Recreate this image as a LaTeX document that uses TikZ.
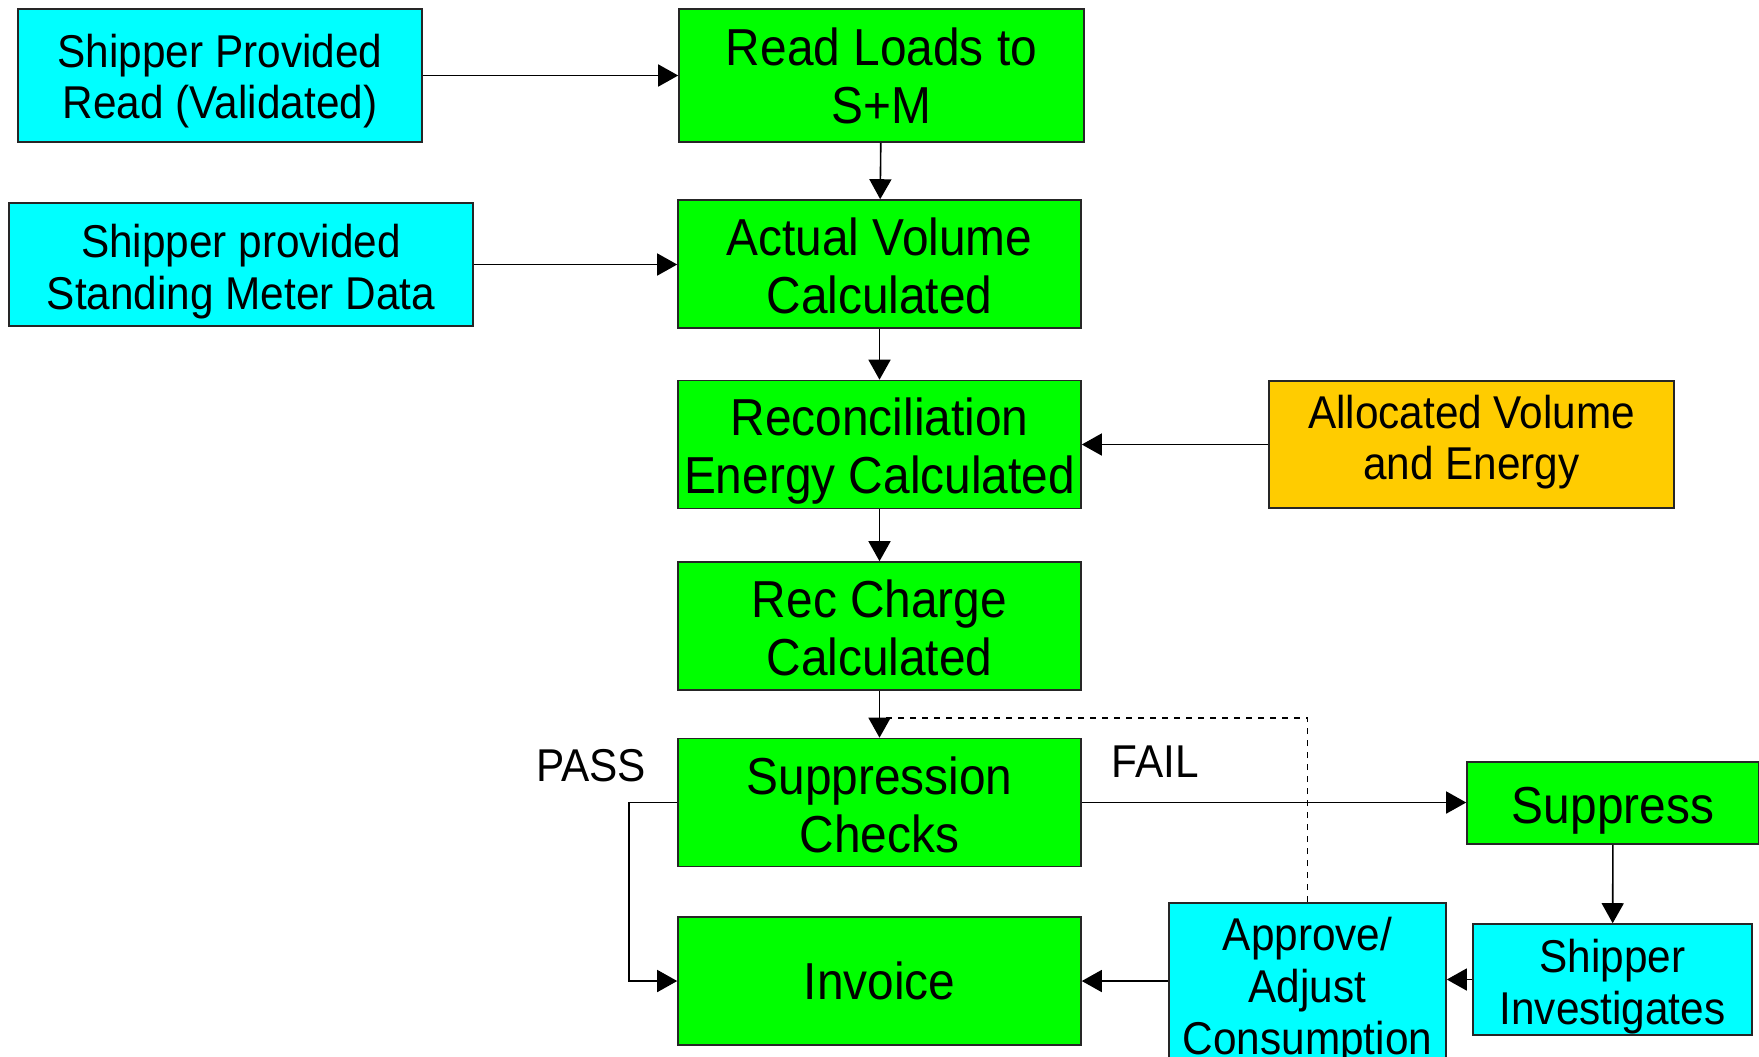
\documentclass[tikz,border=0pt]{standalone}
\usepackage{fontspec}
\setmainfont{Liberation Sans}[FakeStretch=0.92]
\usetikzlibrary{arrows.meta,positioning,calc}
\definecolor{procgreen}{HTML}{00FF00}
\definecolor{shipcyan}{HTML}{00FFFF}
\definecolor{allocgold}{HTML}{FFCC00}
% invisible struts to nudge the text inside a box
\newcommand{\txtdown}[1]{\rule{0pt}{#1}}
\newcommand{\txtup}[1]{\rule[-#1]{0pt}{0pt}}

\begin{document}
\begin{tikzpicture}[x=0.5pt,y=-0.5pt,
  box/.style={draw=black!85, line width=0.8pt, inner sep=0pt, align=center},
  proc/.style={box, fill=procgreen, minimum width=201.5pt, minimum height=64pt,
    font=\fontsize{26}{29}\selectfont},
  shipper/.style={box, fill=shipcyan, font=\fontsize{23}{25.8}\selectfont},
  alloc/.style={box, fill=allocgold, font=\fontsize{23}{25.8}\selectfont},
  arr/.style={-{Triangle[length=10pt,width=11pt]}, line width=0.8pt},
  lbl/.style={font=\fontsize{23}{25.8}\selectfont}]

  \path[use as bounding box, clip] (0,0) rectangle (1759,1056);

  % main column
  \node[proc, minimum width=202.5pt, minimum height=66.5pt] (readloads) at (881.5,75.5) {Read Loads to\\S+M};
  \node[proc] (actualvol) at (879.5,264) {\txtdown{20.6pt}Actual Volume\\Calculated};
  \node[proc] (recenergy) at (879.5,444.5) {\txtdown{25.8pt}Reconciliation\\Energy Calculated};
  \node[proc] (reccharge) at (879.5,626) {\txtdown{21.2pt}Rec Charge\\Calculated};
  \node[proc] (suppcheck) at (879.5,802.5) {\txtdown{21.2pt}Suppression\\Checks};
  \node[proc] (invoice) at (879.5,981) {Invoice};

  % inputs
  \node[shipper, minimum width=202pt, minimum height=66.5pt] (shipread) at (220,75.5) {\txtdown{22.4pt}Shipper Provided\\Read (Validated)};
  \node[shipper, minimum width=232pt, minimum height=61.5pt] (shipmeter) at (241,264.5) {\txtdown{23.5pt}Shipper provided\\Standing Meter Data};
  \node[alloc, minimum width=202.5pt, minimum height=63.5pt] (allocated) at (1471.5,444.5) {Allocated Volume\\and Energy\txtup{7pt}};

  % fail branch
  \node[proc, minimum width=146pt, minimum height=41pt] (suppress) at (1613,803) {\txtdown{25.8pt}Suppress};
  \node[shipper, minimum width=139.5pt, minimum height=55.5pt] (shipinv) at (1612.5,979.5) {\txtdown{23.5pt}Shipper\\Investigates};
  \node[shipper, minimum width=138.5pt, minimum height=83pt] (approve) at (1307.5,986) {\txtdown{21.3pt}Approve/\\Adjust\\Consumption};

  \node[lbl] (pass) at (591,766) {PASS};
  \node[lbl] (fail) at (1155,762) {FAIL};

  \draw[arr] (shipread) -- (readloads);
  \draw[arr] (shipmeter) -- (shipmeter -| actualvol.west);
  \draw[arr] (readloads) -- (actualvol);
  \draw[arr] (actualvol) -- (recenergy);
  \draw[arr] (allocated) -- (recenergy);
  \draw[arr] (recenergy) -- (reccharge);
  \draw[arr] (reccharge) -- (suppcheck);
  \draw[arr] (suppcheck.west) -- ++(-48,0) |- (invoice.west);
  \draw[arr] (suppcheck.east) -- (suppcheck.east -| suppress.west);
  \draw[arr] (suppress) -- (shipinv);
  \draw[arr] (shipinv.west) -- (shipinv.west -| approve.east);
  \draw[arr] (approve.west |- invoice) -- (invoice.east);

  \coordinate (rejoin) at (881,718);
  \draw[dashed, line width=0.8pt] (approve.north) |- (rejoin);

\end{tikzpicture}
\end{document}
